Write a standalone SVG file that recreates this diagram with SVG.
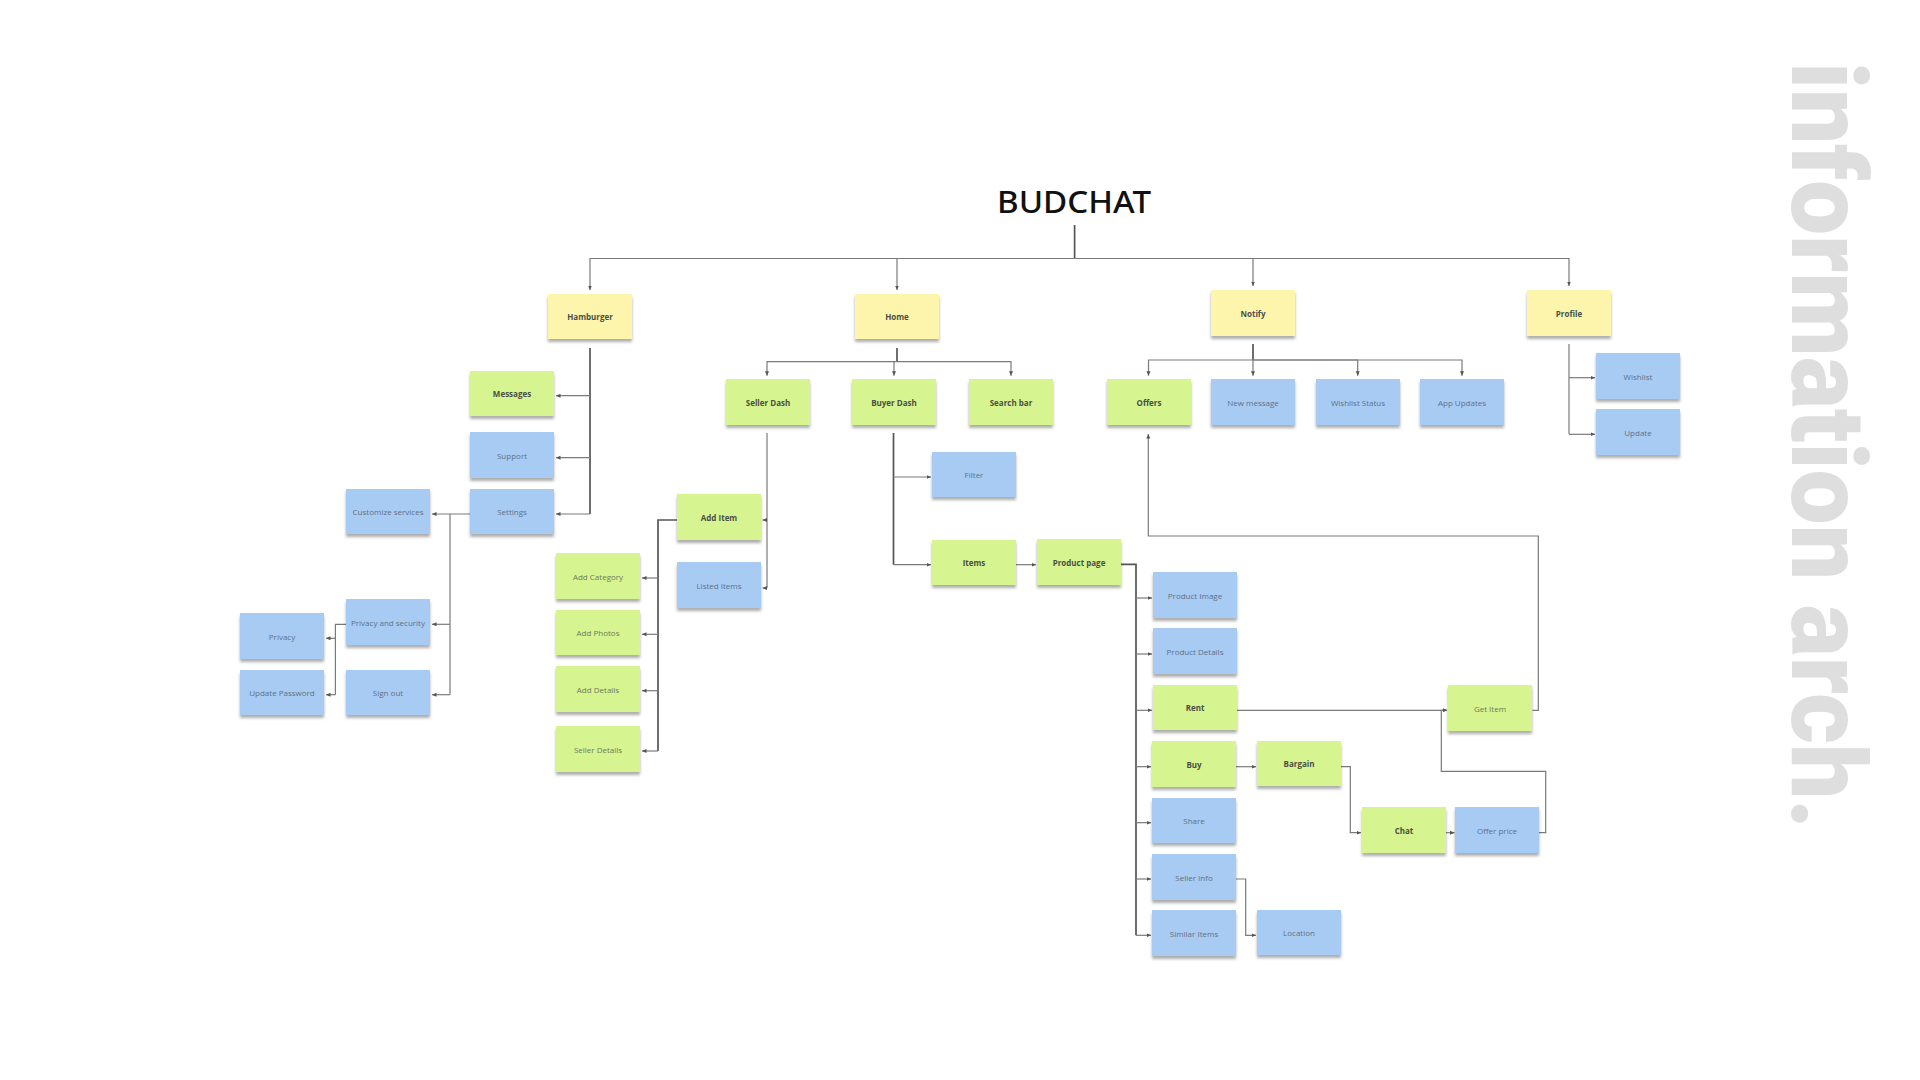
<svg xmlns="http://www.w3.org/2000/svg" width="1920" height="1080" viewBox="0 0 1920 1080">
<style>
.n rect{stroke:none;filter:url(#sh)}
.y rect{fill:#fef5ad}
.g rect{fill:#d6f48f}
.b rect{fill:#a7cbf3}
.n text{font-family:"Open Sans","Liberation Sans",sans-serif;font-size:8px;text-anchor:middle;dominant-baseline:central}
.tb{font-weight:700;fill:#4b4f45}
.tr{font-weight:400;fill:#607187}
.g .tr{fill:#6c7a60}
#connectors path{fill:none;stroke:#7a7a7a;stroke-width:1.2}
#connectors path.a{marker-end:url(#ar)}
#connectors path.k{stroke:#555;stroke-width:1.7}
</style>
<defs>
<filter id="sh" x="-10%" y="-10%" width="120%" height="140%">
<feDropShadow dx="0" dy="3" stdDeviation="1.8" flood-color="#000" flood-opacity="0.32"/>
</filter>
<marker id="ar" markerUnits="userSpaceOnUse" markerWidth="5" markerHeight="5" refX="4.5" refY="2.5" orient="auto">
<path d="M0,0.5 L4.5,2.5 L0,4.5 z" fill="#555"/>
</marker>
</defs>
<rect width="1920" height="1080" fill="#fff"/>

<text x="1074" y="213" font-family="'Noto Sans','Liberation Sans',sans-serif" font-size="30" font-weight="500" fill="#111" text-anchor="middle" textLength="154" lengthAdjust="spacingAndGlyphs">BUDCHAT</text>
<text transform="translate(1792,62) rotate(90)" font-family="Roboto,Lato,'Liberation Sans',sans-serif" font-size="104" font-weight="900" fill="#dedede" textLength="767" lengthAdjust="spacingAndGlyphs">information arch.</text>

<g id="connectors">
<path class="k" d="M1074.6,225 V258.5"/>
<path class="a" d="M1074.6,258.5 H590 V290"/>
<path class="a" d="M897,258.5 V290"/>
<path class="a" d="M1074.6,258.5 H1253 V286"/>
<path class="a" d="M1253,258.5 H1569 V286"/>
<path class="k" d="M590,348 V514"/>
<path class="a" d="M590,395.7 H556"/>
<path class="a" d="M590,457.7 H556"/>
<path class="a" d="M590,514 H556"/>
<path class="a" d="M470,514 H432"/>
<path d="M450,514 V694.7"/>
<path class="a" d="M450,624.3 H432"/>
<path class="a" d="M450,694.7 H432"/>
<path d="M346,624.3 H335.4 V694.7"/>
<path class="a" d="M335.4,638.3 H326"/>
<path class="a" d="M335.4,694.7 H326"/>
<path class="k" d="M897,348 V361.7"/>
<path class="a" d="M897,361.7 H767 V375.7"/>
<path class="a" d="M894,361.7 V375.7"/>
<path class="a" d="M897,361.7 H1011 V375.7"/>
<path d="M767,433 V588"/>
<path class="a" d="M767,520 H762.5"/>
<path class="a" d="M767,588 H762.5"/>
<path class="k" d="M677,520 H658 V751"/>
<path class="a" d="M658,578 H642"/>
<path class="a" d="M658,634.3 H642"/>
<path class="a" d="M658,690.7 H642"/>
<path class="a" d="M658,751 H642"/>
<path class="k" d="M893.5,433 V564.7"/>
<path class="a" d="M893.5,477 H931"/>
<path class="a" d="M893.5,564.7 H931"/>
<path class="a" d="M1016,564.7 H1036"/>
<path class="k" d="M1121,564.3 H1136 V935.3"/>
<path class="a" d="M1136,598 H1152"/>
<path class="a" d="M1136,654 H1152"/>
<path class="a" d="M1136,710.3 H1152"/>
<path class="a" d="M1136,766.7 H1151"/>
<path class="a" d="M1136,822.7 H1151"/>
<path class="a" d="M1136,879 H1151"/>
<path class="a" d="M1136,935.3 H1151"/>
<path class="a" d="M1236,766.7 H1256"/>
<path class="a" d="M1341,766.7 H1350.3 V832.7 H1361"/>
<path class="a" d="M1445.3,832.7 H1454.5"/>
<path class="a" d="M1539,832.7 H1545.7 V771.3 H1441.3 V710.3 H1447"/>
<path class="a" d="M1237,710.3 H1447"/>
<path class="a" d="M1532.5,710.3 H1538.3 V536 H1148.3 V434"/>
<path class="a" d="M1236,879 H1245.7 V935.3 H1256"/>
<path class="k" d="M1253,344 V360"/>
<path class="a" d="M1253,360 H1148.5 V375.7"/>
<path class="a" d="M1253,360 V375.7"/>
<path class="a" d="M1253,360 H1357.7 V375.7"/>
<path class="a" d="M1253,360 H1462 V375.7"/>
<path d="M1569,344 V434.3"/>
<path class="a" d="M1569,377.7 H1595"/>
<path class="a" d="M1569,434.3 H1595"/>
</g>

<g id="hamburger" class="n y"><rect x="548" y="294" width="84" height="45"/><text class="tb" x="590" y="316.5">Hamburger</text></g>
<g id="home" class="n y"><rect x="855" y="294" width="84" height="45"/><text class="tb" x="897" y="316.5">Home</text></g>
<g id="notify" class="n y"><rect x="1211" y="290" width="84" height="46"/><text class="tb" x="1253" y="313">Notify</text></g>
<g id="profile" class="n y"><rect x="1527" y="290" width="84" height="46"/><text class="tb" x="1569" y="313">Profile</text></g>

<g id="messages" class="n g"><rect x="470" y="371" width="84" height="45"/><text class="tb" x="512" y="393.5">Messages</text></g>
<g id="support" class="n b"><rect x="470" y="432" width="84" height="46"/><text class="tr" x="512" y="455">Support</text></g>
<g id="settings" class="n b"><rect x="470" y="489" width="84" height="45"/><text class="tr" x="512" y="511.5">Settings</text></g>
<g id="customize-services" class="n b"><rect x="346" y="489" width="84" height="45"/><text class="tr" x="388" y="511.5">Customize services</text></g>
<g id="privacy-and-security" class="n b"><rect x="346" y="599" width="84" height="46"/><text class="tr" x="388" y="622">Privacy and security</text></g>
<g id="sign-out" class="n b"><rect x="346" y="670" width="84" height="45"/><text class="tr" x="388" y="692.5">Sign out</text></g>
<g id="privacy" class="n b"><rect x="240" y="613" width="84" height="46"/><text class="tr" x="282" y="636">Privacy</text></g>
<g id="update-password" class="n b"><rect x="240" y="670" width="84" height="45"/><text class="tr" x="282" y="692.5">Update Password</text></g>

<g id="seller-dash" class="n g"><rect x="726" y="379" width="84" height="46"/><text class="tb" x="768" y="402">Seller Dash</text></g>
<g id="buyer-dash" class="n g"><rect x="852" y="379" width="84" height="46"/><text class="tb" x="894" y="402">Buyer Dash</text></g>
<g id="search-bar" class="n g"><rect x="969" y="379" width="84" height="46"/><text class="tb" x="1011" y="402">Search bar</text></g>
<g id="offers" class="n g"><rect x="1107" y="379" width="84" height="46"/><text class="tb" x="1149" y="402">Offers</text></g>
<g id="new-message" class="n b"><rect x="1211" y="379" width="84" height="46"/><text class="tr" x="1253" y="402">New message</text></g>
<g id="wishlist-status" class="n b"><rect x="1316" y="379" width="84" height="46"/><text class="tr" x="1358" y="402">Wishlist Status</text></g>
<g id="app-updates" class="n b"><rect x="1420" y="379" width="84" height="46"/><text class="tr" x="1462" y="402">App Updates</text></g>
<g id="wishlist" class="n b"><rect x="1596" y="353" width="84" height="46"/><text class="tr" x="1638" y="376">Wishlist</text></g>
<g id="update" class="n b"><rect x="1596" y="409" width="84" height="46"/><text class="tr" x="1638" y="432">Update</text></g>

<g id="add-item" class="n g"><rect x="677" y="494" width="84" height="46"/><text class="tb" x="719" y="517">Add Item</text></g>
<g id="listed-items" class="n b"><rect x="677" y="562" width="84" height="46"/><text class="tr" x="719" y="585">Listed Items</text></g>
<g id="add-category" class="n g"><rect x="556" y="553" width="84" height="46"/><text class="tr" x="598" y="576">Add Category</text></g>
<g id="add-photos" class="n g"><rect x="556" y="610" width="84" height="45"/><text class="tr" x="598" y="632.5">Add Photos</text></g>
<g id="add-details" class="n g"><rect x="556" y="666" width="84" height="46"/><text class="tr" x="598" y="689">Add Details</text></g>
<g id="seller-details" class="n g"><rect x="556" y="726" width="84" height="46"/><text class="tr" x="598" y="749">Seller Details</text></g>

<g id="filter" class="n b"><rect x="932" y="452" width="84" height="45"/><text class="tr" x="974" y="474.5">Filter</text></g>
<g id="items" class="n g"><rect x="932" y="540" width="84" height="45"/><text class="tb" x="974" y="562.5">Items</text></g>
<g id="product-page" class="n g"><rect x="1037" y="539" width="84" height="46"/><text class="tb" x="1079" y="562">Product page</text></g>

<g id="product-image" class="n b"><rect x="1153" y="572" width="84" height="46"/><text class="tr" x="1195" y="595">Product Image</text></g>
<g id="product-details" class="n b"><rect x="1153" y="628" width="84" height="46"/><text class="tr" x="1195" y="651">Product Details</text></g>
<g id="rent" class="n g"><rect x="1153" y="685" width="84" height="45"/><text class="tb" x="1195" y="707.5">Rent</text></g>
<g id="buy" class="n g"><rect x="1152" y="741" width="84" height="46"/><text class="tb" x="1194" y="764">Buy</text></g>
<g id="share" class="n b"><rect x="1152" y="798" width="84" height="45"/><text class="tr" x="1194" y="820.5">Share</text></g>
<g id="seller-info" class="n b"><rect x="1152" y="854" width="84" height="46"/><text class="tr" x="1194" y="877">Seller Info</text></g>
<g id="similar-items" class="n b"><rect x="1152" y="910" width="84" height="46"/><text class="tr" x="1194" y="933">Similar Items</text></g>
<g id="bargain" class="n g"><rect x="1257" y="741" width="84" height="45"/><text class="tb" x="1299" y="763.5">Bargain</text></g>
<g id="location" class="n b"><rect x="1257" y="910" width="84" height="45"/><text class="tr" x="1299" y="932.5">Location</text></g>
<g id="get-item" class="n g"><rect x="1448" y="685" width="84" height="46"/><text class="tr" x="1490" y="708">Get Item</text></g>
<g id="chat" class="n g"><rect x="1362" y="807" width="84" height="46"/><text class="tb" x="1404" y="830">Chat</text></g>
<g id="offer-price" class="n b"><rect x="1455" y="807" width="84" height="46"/><text class="tr" x="1497" y="830">Offer price</text></g>
</svg>
